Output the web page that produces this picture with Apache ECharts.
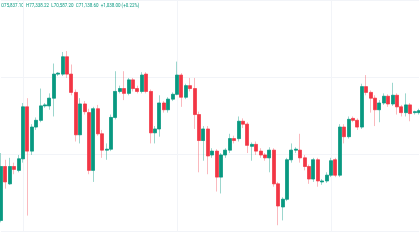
<!DOCTYPE html>
<html><head><meta charset="utf-8">
<script src="https://cdn.jsdelivr.net/npm/echarts@6/dist/echarts.min.js"></script>
<style>html,body{margin:0;padding:0;background:#fff}#c{width:420px;height:240px}</style>
</head><body><div id="c"></div>
<script>
// [open, close, low, high]
const candles = [
[11,67,9,81],[67,51,44,74],[49,67,48,76],[67,64,59,71],[63,75,61,79],[75,129,71,133],[129,83,16,138],[83,108,79,111],
[108,115,105,118],[115,130,113,148],[130,131,128,133],[130,138,126,143],[138,163,119,174],[163,164,161,165],[163,181,161,186],[181,163,159,187],
[163,144,141,173],[144,100,93,147],[100,132,91,138],[132,124,121,135],[123,63,59,127],[63,127,51,129],[127,101,99,131],[101,84,76,105],
[84,85,74,91],[85,118,83,121],[118,145,116,166],[145,148,143,151],[148,143,136,166],[143,157,141,159],[157,148,145,159],[148,145,143,151],
[145,162,143,165],[163,145,143,165],[145,102,91,147],[102,106,91,109],[106,133,98,141],[133,126,123,135],[126,137,123,139],[137,142,135,144],
[142,162,141,176],[162,139,129,164],[139,151,137,153],[151,148,145,159],[148,121,106,159],[121,94,61,124],[94,106,73,109],[106,78,59,109],
[79,83,76,86],[83,56,41,85],[56,79,39,81],[79,84,76,86],[84,96,81,101],[96,94,91,99],[96,114,93,119],[114,111,107,117],
[111,89,81,113],[88,90,73,92],[90,83,79,93],[83,79,76,86],[79,76,73,81],[76,84,61,87],[84,49,46,86],[49,26,6,51],
[25,33,11,35],[33,74,31,76],[74,84,71,91],[84,85,81,87],[84,76,71,101],[76,67,63,79],[67,54,49,69],[54,74,51,76],
[74,52,46,76],[51,52,48,54],[52,58,50,61],[58,73,56,76],[74,58,56,76],[58,108,56,111],[108,98,91,111],[98,116,96,119],
[117,115,113,119],[115,108,105,117],[108,150,106,153],[150,144,141,162],[144,138,123,146],[138,126,109,141],[126,133,113,136],[133,140,131,143],
[140,132,129,142],[132,141,130,154],[141,129,121,143],[129,123,119,131],[123,131,119,143],[131,122,114,133],[123,124,121,125],[123,125,121,127]
];
const categories = candles.map((_, i) => 'D' + (i + 1));
const headerLine1 = 'Bitcoin / TetherUS · 1D · BINANCE';
const headerLine2 = 'O75,837.10  H77,338.22  L70,587.20  C71,138.60  +1,038.00 (+0.22%)';

// bodies only (no wick extension), derived from the same rows
const bodies = candles.map(([o, c]) => [o, c, Math.min(o, c), Math.max(o, c)]);

const chart = echarts.init(document.getElementById('c'), null, {renderer: 'canvas'});
chart.setOption({
  animation: false,
  backgroundColor: '#ffffff',
  grid: {left: 1, right: 1, top: -9, bottom: 9, containLabel: false},
  xAxis: {
    type: 'category', data: categories, boundaryGap: false,
    axisLine: {show: false}, axisTick: {show: false}, axisLabel: {show: false},
    splitLine: {show: true, interval: (i) => (i - 5) % 35 === 0, lineStyle: {color: '#f2f4f8', width: 1}}
  },
  yAxis: {
    type: 'value', min: 0, max: 240, interval: 80, position: 'right',
    axisLine: {show: false}, axisTick: {show: false}, axisLabel: {show: false},
    splitLine: {show: true, lineStyle: {color: '#f2f4f8', width: 1}}
  },
  series: [{
    type: 'candlestick', data: candles, barWidth: 3.4,
    itemStyle: {
      color: 'rgba(8,153,129,0.45)', color0: 'rgba(242,54,69,0.4)',
      borderColor: 'rgba(8,153,129,0.4)', borderColor0: 'rgba(242,54,69,0.35)', borderWidth: 1
    }
  }, {
    type: 'candlestick', data: bodies, barWidth: 3.4,
    itemStyle: {
      color: '#089981', color0: '#F23645',
      borderColor: '#089981', borderColor0: '#F23645', borderWidth: 0.5
    }
  }],
  graphic: [
    {type: 'text', left: 1, top: -3, style: {text: headerLine1, fontSize: 5, fill: '#9598a1', fontFamily: 'Roboto'}},
    {type: 'text', left: 1, top: 3, style: {text: headerLine2, fontSize: 4.5, fill: '#089981', fontFamily: 'Roboto'}}
  ]
});
</script></body></html>
